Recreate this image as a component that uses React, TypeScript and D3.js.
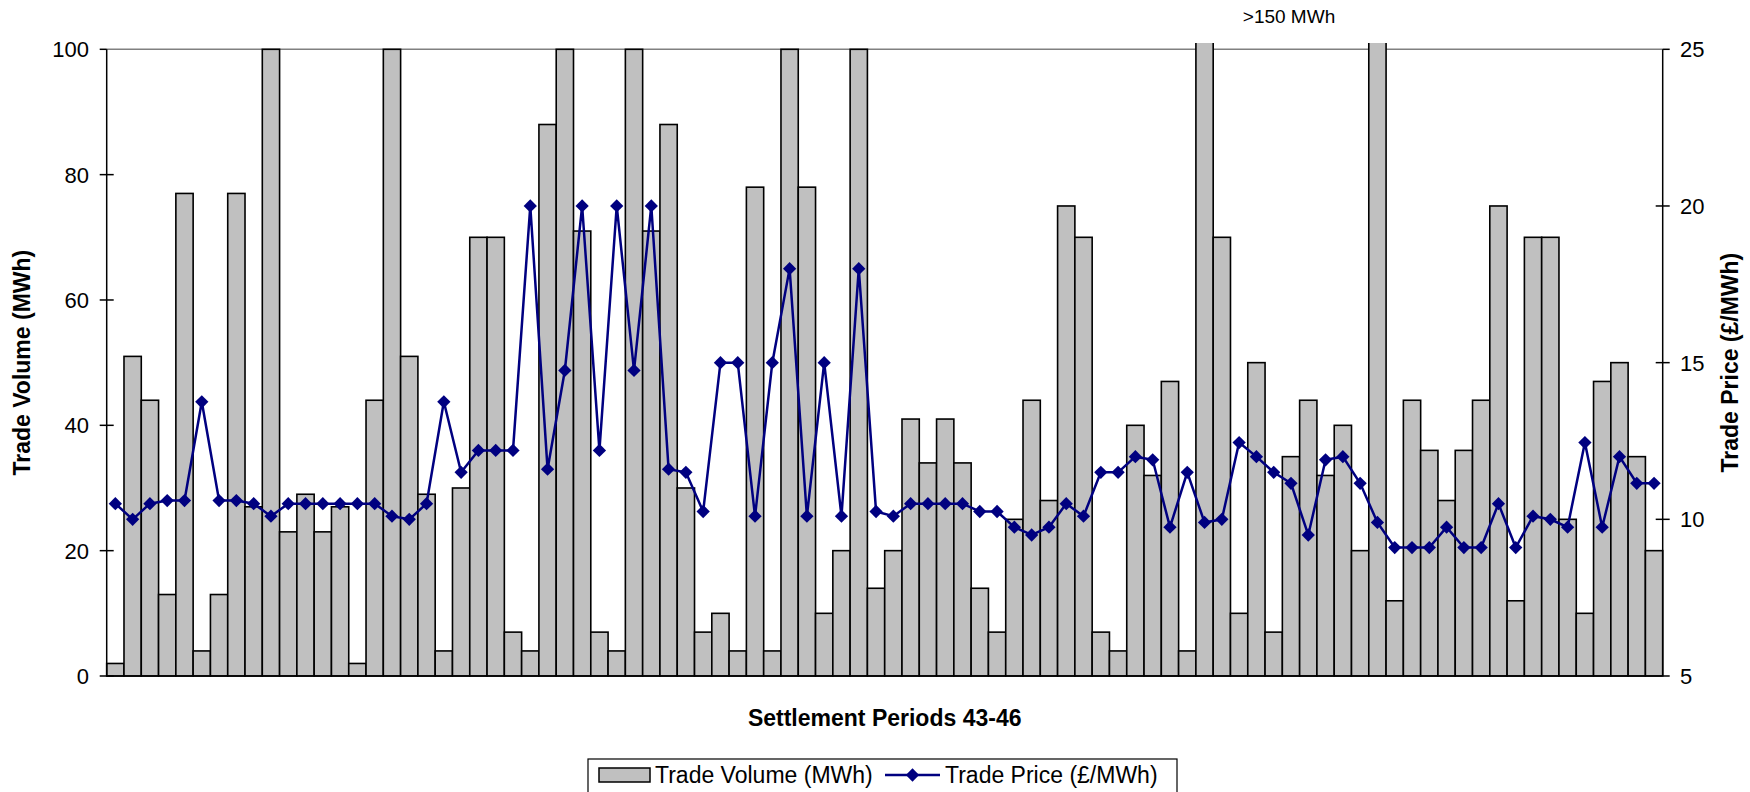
import { useEffect, useRef } from "react";
import * as d3 from "d3";

// trade volume per settlement period (MWh); 155 = off the scale (>150 MWh)
const volumes = [
  2, 51, 44, 13, 77, 4, 13, 77, 27, 100,
  23, 29, 23, 27, 2, 44, 100, 51, 29, 4,
  30, 70, 70, 7, 4, 88, 100, 71, 7, 4,
  100, 71, 88, 30, 7, 10, 4, 78, 4, 100,
  78, 10, 20, 100, 14, 20, 41, 34, 41, 34,
  14, 7, 25, 44, 28, 75, 70, 7, 4, 40,
  32, 47, 4, 155, 70, 10, 50, 7, 35, 44,
  32, 40, 20, 155, 12, 44, 36, 28, 36, 44,
  75, 12, 70, 70, 25, 10, 47, 50, 35, 20,
];

// trade price (£/MWh)
const prices = [
  10.5, 10.0, 10.5, 10.6, 10.6, 13.75, 10.6, 10.6, 10.5, 10.1,
  10.5, 10.5, 10.5, 10.5, 10.5, 10.5, 10.1, 10.0, 10.5, 13.75,
  11.5, 12.2, 12.2, 12.2, 20, 11.6, 14.75, 20, 12.2, 20,
  14.75, 20, 11.6, 11.5, 10.25, 15, 15, 10.1, 15, 18,
  10.1, 15, 10.1, 18, 10.25, 10.1, 10.5, 10.5, 10.5, 10.5,
  10.25, 10.25, 9.75, 9.5, 9.75, 10.5, 10.1, 11.5, 11.5, 12.0,
  11.9, 9.75, 11.5, 9.9, 10.0, 12.45, 12.0, 11.5, 11.15, 9.5,
  11.9, 12.0, 11.15, 9.9, 9.1, 9.1, 9.1, 9.75, 9.1, 9.1,
  10.5, 9.1, 10.1, 10.0, 9.75, 12.45, 9.75, 12.0, 11.15, 11.15,
];

const volumeTicks = [0, 20, 40, 60, 80, 100];
const priceTicks = [5, 10, 15, 20, 25];

export default function App() {
  const svgRef = useRef<SVGSVGElement>(null);

  useEffect(() => {
    const svg = d3.select(svgRef.current);
    svg.selectAll("*").remove();

    const width = 1750;
    const height = 792;
    const left = 106.7;
    const right = 1662.7;
    const top = 49.3;
    const bottom = 676;
    const font = "'Liberation Sans', Arial, sans-serif";

    const x = d3
      .scaleBand<number>()
      .domain(d3.range(volumes.length))
      .range([left, right])
      .padding(0);

    const yVol = d3.scaleLinear().domain([0, 100]).range([bottom, top]);
    const yPrice = d3.scaleLinear().domain([5, 25]).range([bottom, top]);

    svg.append("rect").attr("width", width).attr("height", height).attr("fill", "#fff");

    // bars poking out of the top get cut just above the plot area
    svg
      .append("defs")
      .append("clipPath")
      .attr("id", "bar-clip")
      .append("rect")
      .attr("x", 0)
      .attr("y", yVol(101))
      .attr("width", width)
      .attr("height", bottom - yVol(101) + 2);

    // plot area top border
    svg
      .append("line")
      .attr("x1", left)
      .attr("x2", right)
      .attr("y1", top)
      .attr("y2", top)
      .attr("stroke", "#808080")
      .attr("stroke-width", 1.5);

    // bars
    svg
      .append("g")
      .attr("clip-path", "url(#bar-clip)")
      .selectAll("rect")
      .data(volumes)
      .enter()
      .append("rect")
      .attr("x", (_, i) => x(i)!)
      .attr("y", (d) => yVol(d))
      .attr("width", x.bandwidth())
      .attr("height", (d) => bottom - yVol(d))
      .attr("fill", "#C0C0C0")
      .attr("stroke", "#000")
      .attr("stroke-width", 1.6);

    // axes lines
    const axisG = svg.append("g").attr("stroke", "#000").attr("stroke-width", 1.5);
    axisG.append("line").attr("x1", left).attr("x2", left).attr("y1", top).attr("y2", bottom);
    axisG.append("line").attr("x1", right).attr("x2", right).attr("y1", top).attr("y2", bottom);
    axisG.append("line").attr("x1", left).attr("x2", right).attr("y1", bottom).attr("y2", bottom);

    // left ticks
    volumeTicks.forEach((t) => {
      axisG
        .append("line")
        .attr("x1", left - 7)
        .attr("x2", t === 100 ? left : left + 7)
        .attr("y1", yVol(t))
        .attr("y2", yVol(t));
      svg
        .append("text")
        .attr("x", 89)
        .attr("y", yVol(t))
        .attr("dy", "0.36em")
        .attr("text-anchor", "end")
        .attr("font-family", font)
        .attr("font-size", 22)
        .text(t);
    });

    // right ticks
    priceTicks.forEach((t) => {
      axisG
        .append("line")
        .attr("x1", t === 25 || t === 5 ? right : right - 7)
        .attr("x2", right + 7)
        .attr("y1", yPrice(t))
        .attr("y2", yPrice(t));
      svg
        .append("text")
        .attr("x", 1680)
        .attr("y", yPrice(t))
        .attr("dy", "0.36em")
        .attr("font-family", font)
        .attr("font-size", 22)
        .text(t);
    });

    // price line + diamonds
    const cx = (i: number) => x(i)! + x.bandwidth() / 2;
    const line = d3
      .line<number>()
      .x((_, i) => cx(i))
      .y((d) => yPrice(d));

    svg
      .append("path")
      .datum(prices)
      .attr("d", line)
      .attr("fill", "none")
      .attr("stroke", "#000080")
      .attr("stroke-width", 2.5);

    const diamond = d3.symbol(d3.symbolSquare, 88)();
    svg
      .append("g")
      .selectAll("path")
      .data(prices)
      .enter()
      .append("path")
      .attr("d", diamond)
      .attr("transform", (d, i) => `translate(${cx(i)},${yPrice(d)}) rotate(45)`)
      .attr("fill", "#000080");

    // titles
    svg
      .append("text")
      .attr("transform", `translate(22,${(top + bottom) / 2}) rotate(-90)`)
      .attr("text-anchor", "middle")
      .attr("dy", "0.36em")
      .attr("font-family", font)
      .attr("font-weight", "bold")
      .attr("font-size", 23)
      .text("Trade Volume (MWh)");

    svg
      .append("text")
      .attr("transform", `translate(1730,${(top + bottom) / 2}) rotate(-90)`)
      .attr("text-anchor", "middle")
      .attr("dy", "0.36em")
      .attr("font-family", font)
      .attr("font-weight", "bold")
      .attr("font-size", 23)
      .text("Trade Price (£/MWh)");

    svg
      .append("text")
      .attr("x", (left + right) / 2)
      .attr("y", 726)
      .attr("text-anchor", "middle")
      .attr("font-family", font)
      .attr("font-weight", "bold")
      .attr("font-size", 23)
      .text("Settlement Periods 43-46");

    svg
      .append("text")
      .attr("x", 1289)
      .attr("y", 23)
      .attr("text-anchor", "middle")
      .attr("font-family", font)
      .attr("font-size", 19)
      .text(">150 MWh");

    // legend
    const lg = svg.append("g");
    lg.append("rect")
      .attr("x", 588)
      .attr("y", 759)
      .attr("width", 589)
      .attr("height", 50)
      .attr("fill", "#fff")
      .attr("stroke", "#000")
      .attr("stroke-width", 1.2);
    lg.append("rect")
      .attr("x", 599)
      .attr("y", 768)
      .attr("width", 51)
      .attr("height", 14)
      .attr("fill", "#C0C0C0")
      .attr("stroke", "#000")
      .attr("stroke-width", 1.5);
    lg.append("text")
      .attr("x", 655)
      .attr("y", 783)
      .attr("font-family", font)
      .attr("font-size", 23)
      .text("Trade Volume (MWh)");
    lg.append("line")
      .attr("x1", 885)
      .attr("x2", 940)
      .attr("y1", 775)
      .attr("y2", 775)
      .attr("stroke", "#000080")
      .attr("stroke-width", 2.5);
    lg.append("path")
      .attr("d", diamond)
      .attr("transform", "translate(912.5,775) rotate(45)")
      .attr("fill", "#000080");
    lg.append("text")
      .attr("x", 945)
      .attr("y", 783)
      .attr("font-family", font)
      .attr("font-size", 23)
      .text("Trade Price (£/MWh)");
  }, []);

  return (
    <svg
      ref={svgRef}
      width={1750}
      height={792}
      style={{ position: "absolute", left: 0, top: 0, display: "block" }}
    />
  );
}
